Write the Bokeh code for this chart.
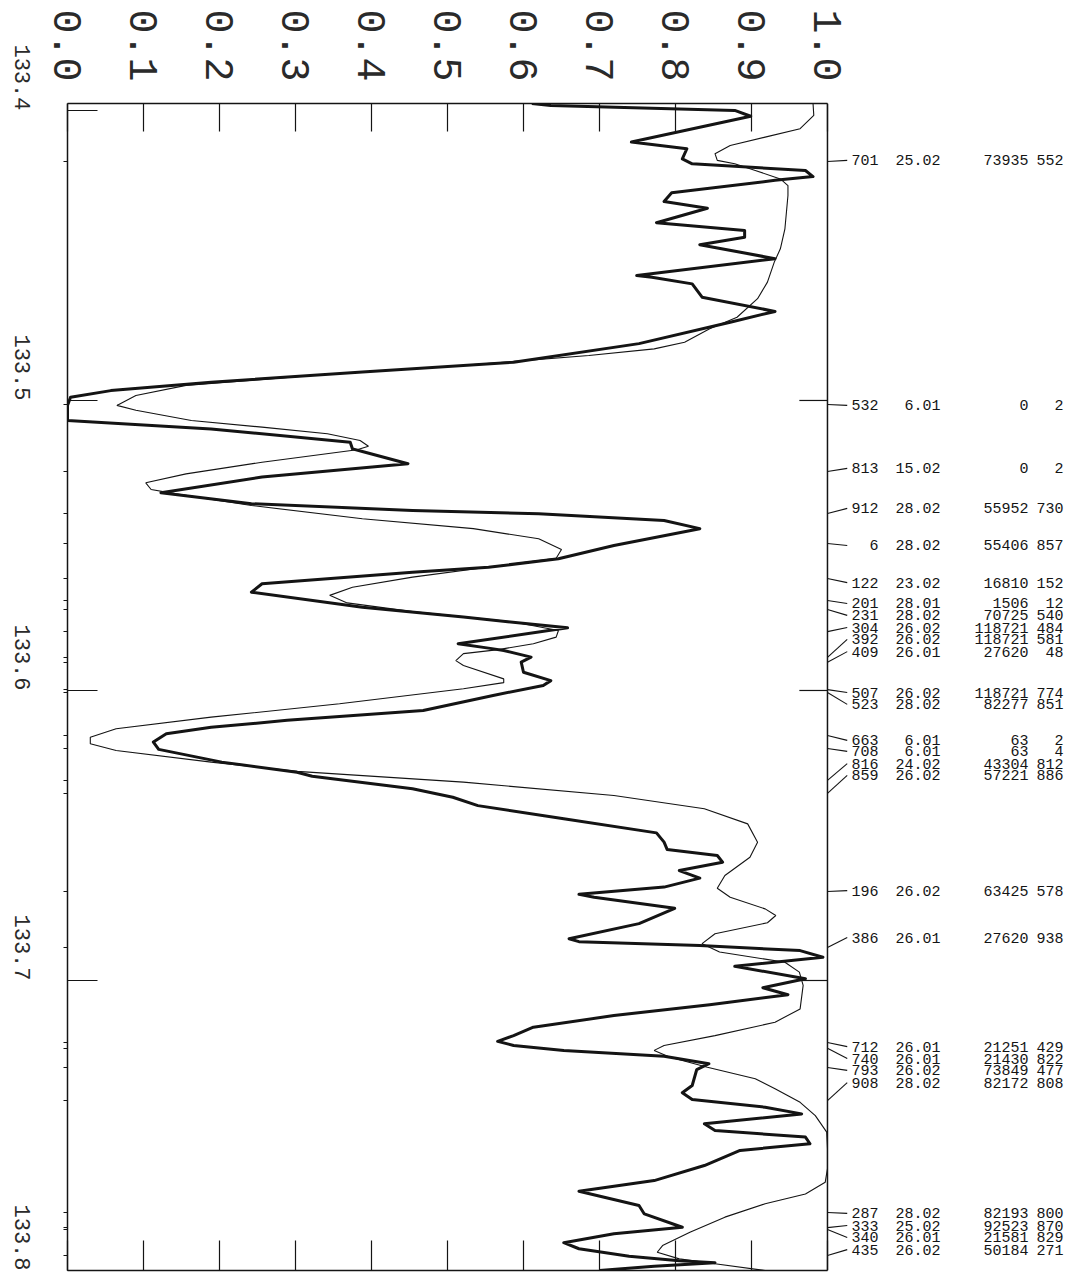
import math
from bokeh.plotting import figure
from bokeh.models import Range1d, LinearAxis, FixedTicker, Span, PrintfTickFormatter, CustomJSTickFormatter
from bokeh.core.properties import value
from bokeh.embed import file_html
from bokeh.resources import INLINE

# ---------------- data (wavenumber, transmission) ----------------
wn_obs = [133.3976, 133.3983, 133.4000, 133.4020, 133.4109, 133.4132, 133.4167, 133.4184,
          133.4207, 133.4228, 133.4241, 133.4284, 133.4314, 133.4337, 133.4387, 133.4414,
          133.4437, 133.4463, 133.4511, 133.4569, 133.4575, 133.4598, 133.4644, 133.4693,
          133.4730, 133.4804, 133.4868, 133.4902, 133.4937, 133.4966, 133.4989, 133.5017,
          133.5069, 133.5098, 133.5144, 133.5167, 133.5176, 133.5218, 133.5264, 133.5318,
          133.5356, 133.5379, 133.5391, 133.5414, 133.5442, 133.5500, 133.5546, 133.5575,
          133.5592, 133.5632, 133.5661, 133.5713, 133.5747, 133.5784, 133.5839, 133.5854,
          133.5862, 133.5885, 133.5902, 133.5937, 133.5966, 133.5983, 133.6017, 133.6069,
          133.6103, 133.6127, 133.6149, 133.6178, 133.6203, 133.6247, 133.6282, 133.6296,
          133.6339, 133.6368, 133.6397, 133.6442, 133.6491, 133.6523, 133.6548, 133.6569,
          133.6592, 133.6621, 133.6647, 133.6678, 133.6703, 133.6713, 133.6751, 133.6804,
          133.6856, 133.6866, 133.6879, 133.6897, 133.6920, 133.6951, 133.6994, 133.7025,
          133.7049, 133.7084, 133.7121, 133.7161, 133.7190, 133.7210, 133.7224, 133.7241,
          133.7261, 133.7287, 133.7307, 133.7362, 133.7387, 133.7410, 133.7437, 133.7460,
          133.7494, 133.7517, 133.7540, 133.7563, 133.7586, 133.7638, 133.7690, 133.7727,
          133.7776, 133.7805, 133.7851, 133.7873, 133.7904, 133.7925, 133.7951, 133.7966,
          133.7973, 133.7985, 133.8000]
tr_obs = [0.611, 0.636, 0.878, 0.899, 0.742, 0.815, 0.809, 0.822,
          0.971, 0.981, 0.931, 0.795, 0.785, 0.842, 0.775, 0.891,
          0.891, 0.832, 0.931, 0.749, 0.769, 0.822, 0.835, 0.931,
          0.872, 0.752, 0.587, 0.388, 0.189, 0.057, 0.004, 0.000,
          0.000, 0.189, 0.372, 0.375, 0.388, 0.448, 0.256, 0.123,
          0.242, 0.454, 0.620, 0.785, 0.832, 0.719, 0.646, 0.554,
          0.454, 0.256, 0.242, 0.388, 0.521, 0.658, 0.514, 0.554,
          0.574, 0.610, 0.597, 0.600, 0.636, 0.626, 0.560, 0.468,
          0.289, 0.189, 0.130, 0.113, 0.120, 0.203, 0.302, 0.322,
          0.454, 0.507, 0.540, 0.653, 0.775, 0.785, 0.789, 0.855,
          0.862, 0.805, 0.832, 0.785, 0.673, 0.693, 0.799, 0.752,
          0.660, 0.673, 0.832, 0.964, 0.994, 0.878, 0.971, 0.915,
          0.948, 0.845, 0.719, 0.613, 0.587, 0.566, 0.587, 0.653,
          0.785, 0.844, 0.828, 0.822, 0.809, 0.822, 0.918, 0.966,
          0.838, 0.852, 0.971, 0.977, 0.885, 0.838, 0.772, 0.673,
          0.752, 0.759, 0.809, 0.719, 0.653, 0.673, 0.739, 0.805,
          0.852, 0.772, 0.700]

wn_calc = [133.3976, 133.4017, 133.4063, 133.4092, 133.4121, 133.4149, 133.4172, 133.4184,
           133.4207, 133.4236, 133.4259, 133.4293, 133.4408, 133.4477, 133.4523, 133.4592,
           133.4649, 133.4713, 133.4753, 133.4799, 133.4822, 133.4845, 133.4879, 133.4914,
           133.4948, 133.4983, 133.5017, 133.5034, 133.5069, 133.5092, 133.5115, 133.5138,
           133.5158, 133.5170, 133.5213, 133.5253, 133.5284, 133.5307, 133.5322, 133.5362,
           133.5408, 133.5442, 133.5477, 133.5514, 133.5544, 133.5563, 133.5609, 133.5644,
           133.5672, 133.5698, 133.5728, 133.5764, 133.5793, 133.5816, 133.5839, 133.5859,
           133.5873, 133.5897, 133.5914, 133.5960, 133.5973, 133.5994, 133.6046, 133.6092,
           133.6132, 133.6161, 133.6184, 133.6207, 133.6247, 133.6279, 133.6316, 133.6362,
           133.6408, 133.6460, 133.6523, 133.6575, 133.6638, 133.6682, 133.6713, 133.6753,
           133.6776, 133.6801, 133.6839, 133.6873, 133.6902, 133.6937, 133.6971, 133.7017,
           133.7098, 133.7144, 133.7190, 133.7224, 133.7241, 133.7264, 133.7299, 133.7339,
           133.7373, 133.7420, 133.7466, 133.7523, 133.7580, 133.7649, 133.7696, 133.7736,
           133.7770, 133.7816, 133.7868, 133.7914, 133.7937, 133.7960, 133.7977, 133.8000]
tr_calc = [0.981, 0.982, 0.964, 0.918, 0.872, 0.852, 0.855, 0.878,
           0.905, 0.938, 0.948, 0.948, 0.944, 0.938, 0.930, 0.921,
           0.908, 0.881, 0.845, 0.812, 0.772, 0.686, 0.521, 0.322,
           0.156, 0.090, 0.065, 0.090, 0.163, 0.256, 0.342, 0.385,
           0.396, 0.381, 0.256, 0.156, 0.103, 0.110, 0.143, 0.242,
           0.388, 0.534, 0.620, 0.650, 0.643, 0.587, 0.454, 0.375,
           0.345, 0.368, 0.454, 0.587, 0.646, 0.643, 0.613, 0.567,
           0.521, 0.511, 0.521, 0.574, 0.574, 0.521, 0.358, 0.189,
           0.064, 0.030, 0.030, 0.064, 0.189, 0.302, 0.521, 0.719,
           0.838, 0.895, 0.908, 0.898, 0.865, 0.855, 0.872, 0.918,
           0.932, 0.921, 0.852, 0.835, 0.858, 0.944, 0.963, 0.968,
           0.964, 0.931, 0.852, 0.785, 0.772, 0.792, 0.842, 0.905,
           0.931, 0.964, 0.984, 0.999, 1.000, 1.000, 0.997, 0.971,
           0.918, 0.865, 0.819, 0.783, 0.776, 0.805, 0.852, 0.918]

value_ticks = [0.0, 0.1, 0.2, 0.3, 0.4, 0.5, 0.6, 0.7, 0.8, 0.9, 1.0]
wn_ticks = [133.4, 133.5, 133.6, 133.7, 133.8]
inner_wn_ticks = [133.5, 133.6, 133.7]

# line assignments (right margin)
line_ids = ["701", "532", "813", "912", "6", "122", "201", "231", "304", "392", "409",
            "507", "523", "663", "708", "816", "859", "196", "386", "712", "740", "793",
            "908", "287", "333", "340", "435"]
line_col2 = ["25.02", "6.01", "15.02", "28.02", "28.02", "23.02", "28.01", "28.02", "26.02",
             "26.02", "26.01", "26.02", "28.02", "6.01", "6.01", "24.02", "26.02", "26.02",
             "26.01", "26.01", "26.01", "26.02", "28.02", "28.02", "25.02", "26.01", "26.02"]
line_col3 = ["73935", "0", "0", "55952", "55406", "16810", "1506", "70725", "118721",
             "118721", "27620", "118721", "82277", "63", "63", "43304", "57221", "63425",
             "27620", "21251", "21430", "73849", "82172", "82193", "92523", "21581", "50184"]
line_col4 = ["552", "2", "2", "730", "857", "152", "12", "540", "484", "581", "48", "774",
             "851", "2", "4", "812", "886", "578", "938", "429", "822", "477", "808", "800",
             "870", "829", "271"]
line_wn = [133.4176, 133.5014, 133.5245, 133.5390, 133.5493, 133.5614, 133.5690, 133.5721,
           133.5797, 133.5886, 133.5903, 133.5997, 133.6007, 133.6155, 133.6200, 133.6310,
           133.6355, 133.6693, 133.6886, 133.7214, 133.7234, 133.7300, 133.7414, 133.7800,
           133.7852, 133.7859, 133.7948]
label_wn = [133.4172, 133.5017, 133.5234, 133.5372, 133.5500, 133.5628, 133.5700, 133.5741,
            133.5783, 133.5824, 133.5866, 133.6007, 133.6048, 133.6172, 133.6210, 133.6252,
            133.6293, 133.6690, 133.6852, 133.7228, 133.7269, 133.7310, 133.7352, 133.7803,
            133.7845, 133.7886, 133.7928]

# ---------------- figure ----------------
INK = "#141414"
LABEL_INK = "#2a2a2a"
FONT = "Liberation Mono"

p = figure(width=1071, height=1281, output_backend="svg", toolbar_location=None,
           x_range=Range1d(0, 1.3211), y_range=Range1d(133.8, 133.3976),
           x_axis_location=None, y_axis_location=None,
           min_border_left=67, min_border_right=0, min_border_top=103, min_border_bottom=11)
p.outline_line_color = None
p.xgrid.visible = False
p.ygrid.visible = False
p.background_fill_color = "white"
p.border_fill_color = "white"

def style_axis(ax):
    ax.axis_line_color = INK
    ax.axis_line_width = 1.5
    ax.major_tick_line_color = INK
    ax.major_tick_line_width = 1.2
    ax.minor_tick_line_color = INK
    ax.minor_tick_line_width = 1.2
    ax.major_label_text_color = LABEL_INK
    ax.major_label_text_font = FONT

top = LinearAxis(ticker=FixedTicker(ticks=value_ticks), bounds=(0, 1),
                 formatter=PrintfTickFormatter(format="%.1f"))
style_axis(top)
top.major_tick_in = 28
top.major_tick_out = 0
top.minor_tick_in = 0
top.minor_tick_out = 0
top.major_label_orientation = -math.pi / 2
top.major_label_standoff = 22
top.major_label_text_font_size = "40px"
p.add_layout(top, "above")

bottom = LinearAxis(ticker=FixedTicker(ticks=value_ticks), bounds=(0, 1),
                    formatter=CustomJSTickFormatter(code="return ''"))
style_axis(bottom)
bottom.major_tick_in = 30
bottom.major_tick_out = 0
bottom.major_label_standoff = 0
bottom.major_label_text_font_size = "1px"
p.add_layout(bottom, "below")

left = LinearAxis(ticker=FixedTicker(ticks=wn_ticks, minor_ticks=line_wn),
                  bounds=(133.3976, 133.8), formatter=PrintfTickFormatter(format="%.1f"))
style_axis(left)
left.major_tick_in = 30
left.major_tick_out = 0
left.minor_tick_in = 0
left.minor_tick_out = 4
left.major_label_orientation = -math.pi / 2
left.major_label_standoff = 41
left.major_label_text_font_size = "22px"
p.add_layout(left, "left")

# right edge of frame and its inward ticks
p.add_layout(Span(location=1.0, dimension="height", line_color=INK, line_width=1.5))
p.segment(x0=[1.0 - 0.037] * len(inner_wn_ticks), x1=[1.0] * len(inner_wn_ticks),
          y0=inner_wn_ticks, y1=inner_wn_ticks, line_color=INK, line_width=1.2)

# spectra
p.line(tr_calc, wn_calc, line_color=INK, line_width=1.1)
p.line(tr_obs, wn_obs, line_color=INK, line_width=3.0, line_join="round")

# leaders and assignment labels
n = len(line_ids)
p.segment(x0=[1.0] * n, y0=line_wn, x1=[1.026] * n, y1=label_wn, line_color=INK, line_width=1.1)
col_x = [1.0671, 1.1487, 1.2645, 1.3105]
for cx, col in zip(col_x, [line_ids, line_col2, line_col3, line_col4]):
    p.text(x=[cx] * n, y=label_wn, text=col, text_align="right", text_baseline="middle",
           text_font=value(FONT), text_font_size="15px", text_color=INK)

open("out.html", "w").write(file_html(p, INLINE))
